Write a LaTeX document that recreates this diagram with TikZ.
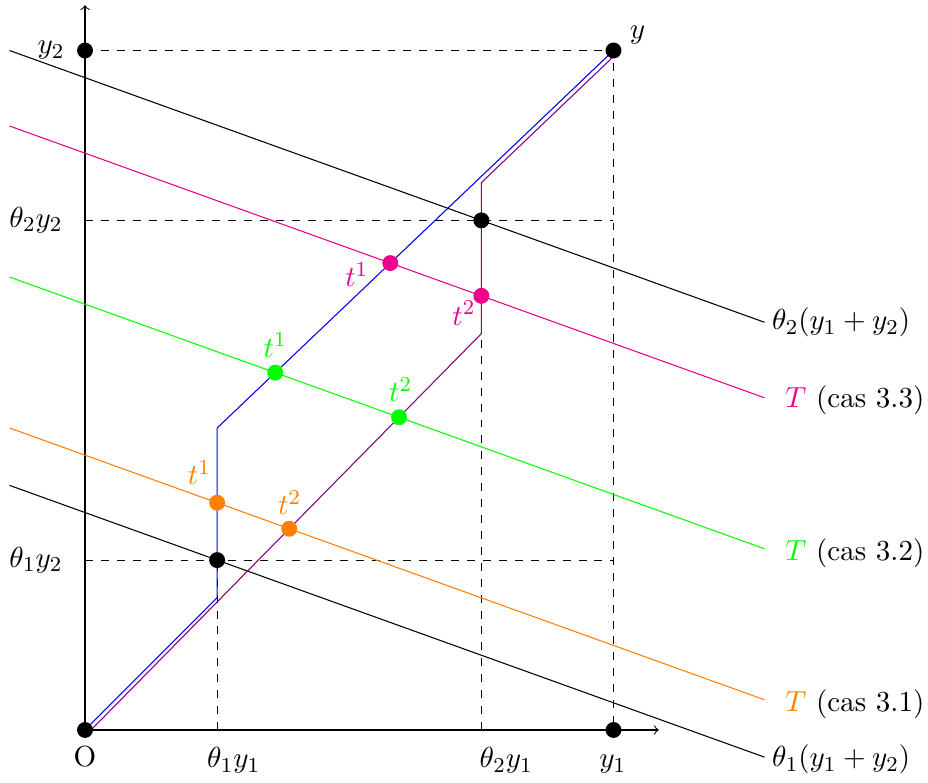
\documentclass[11pt,tikz,border=0pt]{standalone}
\usepackage{amsmath}
\definecolor{pinkc}{RGB}{236,0,140}
\definecolor{greenc}{RGB}{0,255,0}
\definecolor{orangec}{RGB}{255,128,0}
\definecolor{violetc}{RGB}{128,0,128}
\begin{document}
\begin{tikzpicture}[
  dot/.style={circle,fill=black,inner sep=0pt,minimum size=6pt},
  cdot/.style={circle,fill=#1,inner sep=0pt,minimum size=6pt},
  lab/.style={inner sep=0pt,anchor=base west},
  blab/.style={inner sep=0pt,anchor=base},
  llab/.style={inner sep=0pt,anchor=east},
  guide/.style={dashed,black},
  level/.style={thin}
]
\useasboundingbox (-1.126,-0.702) rectangle (11.166,9.669);

% key coordinates
\coordinate (O) at (0,0);
\coordinate (Y1) at (7,0);
\coordinate (Y2) at (0,9);
\coordinate (Y) at (7,9);
\coordinate (A1) at (1.75,0);
\coordinate (A2) at (5.25,0);
\coordinate (B1) at (0,2.25);
\coordinate (B2) at (0,6.75);
\coordinate (P1) at (1.75,2.25);
\coordinate (P2) at (5.25,6.75);
\coordinate (B1r) at (7,2.25);
\coordinate (B2r) at (7,6.75);
\coordinate (Xend) at (7.6,0);
\coordinate (Yend) at (0,9.6);

% dashed guides
\draw[guide] (Y2) -- (Y) -- (Y1);
\draw[guide] (B2) -- (B2r);
\draw[guide] (B1) -- (B1r);
\draw[guide] (A1) -- (P1);
\draw[guide] (A2) -- (P2);

% axes
\draw[->] (O) -- (Xend);
\draw[->] (O) -- (Yend);

% level lines
\coordinate (L1a) at (-1,3.24);  \coordinate (L1b) at (9,-0.36);
\coordinate (L2a) at (-1,9);     \coordinate (L2b) at (9,5.40);
\coordinate (Ta) at (-1,8);      \coordinate (Tb) at (9,4.40);
\coordinate (Ga) at (-1,6);      \coordinate (Gb) at (9,2.40);
\coordinate (Oa) at (-1,4);      \coordinate (Ob) at (9,0.40);
\draw[level,black] (L1a) -- (L1b);
\draw[level,black] (L2a) -- (L2b);
\draw[level,pinkc] (Ta) -- (Tb);
\draw[level,greenc] (Ga) -- (Gb);
\draw[level,orangec] (Oa) -- (Ob);

% paths
\coordinate (bl1) at (1.75,1.75);
\coordinate (bl2) at (1.75,4);
\draw[blue] (O) -- (bl1) -- (bl2) -- (Y);
\coordinate (pu0) at (0.08,0);
\coordinate (pu1) at (5.25,5.25);
\coordinate (pu2) at (5.25,7.25);
\coordinate (pu3) at (7,8.92);
\draw[violetc] (pu0) -- (pu1) -- (pu2) -- (pu3);

% black dots
\foreach \p in {O,Y1,Y2,Y,P1,P2} \node[dot] at (\p) {};

% coloured dots
\node[cdot=pinkc] (pt1) at (4.0435,6.1843) {};
\node[cdot=pinkc] (pt2) at (5.25,5.75) {};
\node[cdot=greenc] (gt1) at (2.5196,4.733) {};
\node[cdot=greenc] (gt2) at (4.1595,4.1426) {};
\node[cdot=orangec] (ot1) at (1.75,3.01) {};
\node[cdot=orangec] (ot2) at (2.7054,2.666) {};

% t labels
\node[lab,pinkc] (lpt1) at (3.44,5.87) {$t^1$};
\node[lab,pinkc] (lpt2) at (4.86,5.36) {$t^2$};
\node[lab,greenc] (lgt1) at (2.36,4.94) {$t^1$};
\node[lab,greenc] (lgt2) at (4.02,4.35) {$t^2$};
\node[lab,orangec] (lot1) at (1.355,3.245) {$t^1$};
\node[lab,orangec] (lot2) at (2.55,2.85) {$t^2$};

% axis labels
\node[blab] (lO) at (0,-0.49) {O};
\node[blab] (la1) at (1.97,-0.50) {$\theta_1y_1$};
\node[blab] (la2) at (5.58,-0.50) {$\theta_2y_1$};
\node[blab] (ly1) at (6.99,-0.50) {$y_1$};
\node[llab] (ly2) at (-0.265,9) {$y_2$};
\node[llab] (lb2) at (-0.29,6.75) {$\theta_2y_2$};
\node[llab] (lb1) at (-0.29,2.25) {$\theta_1y_2$};
\node[lab] (ly) at (7.21,9.165) {$y$};

% right labels
\node[lab] (r1) at (9.095,5.30) {$\theta_2(y_1+y_2)$};
\node[lab] (r2) at (9.27,4.265) {$\textcolor{pinkc}{T}$ (cas 3.3)};
\node[lab] (r3) at (9.27,2.25) {$\textcolor{greenc}{T}$ (cas 3.2)};
\node[lab] (r4) at (9.27,0.243) {$\textcolor{orangec}{T}$ (cas 3.1)};
\node[lab] (r5) at (9.095,-0.486) {$\theta_1(y_1+y_2)$};
\end{tikzpicture}
\end{document}
